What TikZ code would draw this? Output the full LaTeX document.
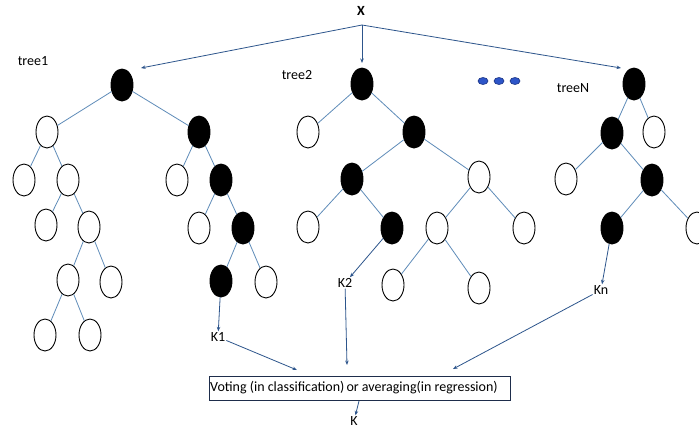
\documentclass[tikz,border=0pt]{standalone}
\usepackage{fontspec}
\setmainfont{Carlito}
\usetikzlibrary{shapes.geometric,arrows.meta}
\definecolor{edgec}{RGB}{95,140,185}
\definecolor{arrc}{RGB}{45,85,140}
\definecolor{dotfill}{RGB}{45,85,200}
\definecolor{dotline}{RGB}{25,50,130}
\definecolor{boxc}{RGB}{30,45,75}
\tikzset{
  nd/.style={ellipse,draw=black,line width=0.9pt,minimum width=22pt,minimum height=32pt,inner sep=0pt},
  bn/.style={nd,fill=black},
  wn/.style={nd,fill=white},
  lbl/.style={inner sep=1pt,font=\fontsize{14}{16}\selectfont},
  tedge/.style={draw=edgec,line width=0.8pt},
  arr/.style={draw=arrc,line width=0.8pt,-{Stealth[length=4.5pt,width=3.5pt]}},
  dotn/.style={ellipse,draw=dotline,fill=dotfill,line width=0.6pt,minimum width=10pt,minimum height=7pt,inner sep=0pt}
}
\begin{document}
\begin{tikzpicture}[x=1pt,y=-1pt]
\useasboundingbox (0,0) rectangle (699,432);
\clip (0,0) rectangle (699,432);
\fill[white] (0,0) rectangle (699,432);
% tree1
\node[bn] (a1) at (122,85) {};
\node[wn] (a2) at (47,132) {};
\node[bn] (a3) at (199,132) {};
\node[wn] (a4) at (24,180) {};
\node[wn] (a5) at (68,180) {};
\node[wn] (a6) at (46,225) {};
\node[wn] (a7) at (89,227) {};
\node[wn] (a8) at (68,280) {};
\node[wn] (a9) at (111,282) {};
\node[wn] (a10) at (45,335) {};
\node[wn] (a11) at (90,335) {};
\node[wn] (a12) at (177,180) {};
\node[bn] (a13) at (221,180) {};
\node[wn] (a14) at (199,228) {};
\node[bn] (a15) at (243,228) {};
\node[bn] (a16) at (221,281) {};
\node[wn] (a17) at (266,282) {};
\foreach \p/\c in {a1/a2,a1/a3,a2/a4,a2/a5,a5/a6,a5/a7,a7/a8,a7/a9,a8/a10,a8/a11,a3/a12,a3/a13,a13/a14,a13/a15,a15/a16,a15/a17}
  \draw[tedge] (\p) -- (\c);
% tree2
\node[bn] (b1) at (362,84) {};
\node[wn] (b2) at (308,132) {};
\node[bn] (b3) at (414,132) {};
\node[bn] (b4) at (352,179) {};
\node[wn] (b5) at (479,177) {};
\node[wn] (b6) at (308,227) {};
\node[bn] (b7) at (392,228) {};
\node[wn] (b8) at (437,228) {};
\node[wn] (b9) at (524,228) {};
\node[wn] (b10) at (393,285) {};
\node[wn] (b11) at (479,288) {};
\foreach \p/\c in {b1/b2,b1/b3,b3/b4,b3/b5,b4/b6,b4/b7,b5/b8,b5/b9,b8/b10,b8/b11}
  \draw[tedge] (\p) -- (\c);
% treeN
\node[bn] (c1) at (634,84) {};
\node[bn] (c2) at (612,133) {};
\node[wn] (c3) at (654,132) {};
\node[wn] (c4) at (566,179) {};
\node[bn] (c5) at (652,180) {};
\node[bn] (c6) at (612,228) {};
\node[wn] (c7) at (697,228) {};
\foreach \p/\c in {c1/c2,c1/c3,c2/c4,c2/c5,c5/c6,c5/c7}
  \draw[tedge] (\p) -- (\c);
% dots
\node[dotn] (d1) at (483,81) {};
\node[dotn] (d2) at (499,81) {};
\node[dotn] (d3) at (515,81) {};
% labels
\node[lbl,font=\fontsize{14}{16}\selectfont\bfseries] (X) at (361,11) {X};
\node[lbl] (t1) at (33,61) {tree1};
\node[lbl] (t2) at (297,75) {tree2};
\node[lbl] (tN) at (573,88) {treeN};
\node[lbl] (K1) at (218,337) {K1};
\node[lbl] (K2) at (345,283) {K2};
\node[lbl] (Kn) at (601,290) {Kn};
\node[lbl] (K) at (354,421) {K};
\node[draw=boxc,line width=0.9pt,minimum width=301pt,minimum height=24pt,inner sep=0pt,anchor=north west] (box) at (209,376) {};
\node[lbl,anchor=west,inner sep=0pt] (boxtxt) at (210,388) {Voting (in classification)\hspace{-1pt} or averaging(in regression)};
% arrows
\coordinate (xs) at (362,25);
\coordinate (ea) at (141,68);
\coordinate (eb) at (362,63);
\coordinate (ec) at (621,68);
\coordinate (p1) at (297,370);
\coordinate (p2) at (347,365);
\coordinate (p3) at (453,369);
\coordinate (bs) at (359,401);
\draw[arr] (xs) -- (ea);
\draw[arr] (xs) -- (eb);
\draw[arr] (xs) -- (ec);
\draw[arr] (a16) -- (K1);
\draw[arr] (b7) -- (K2);
\draw[arr] (c6) -- (Kn);
\draw[arr] (K1) -- (p1);
\draw[arr] (K2) -- (p2);
\draw[arr] (Kn) -- (p3);
\draw[arr] (bs) -- (K);
\end{tikzpicture}
\end{document}
